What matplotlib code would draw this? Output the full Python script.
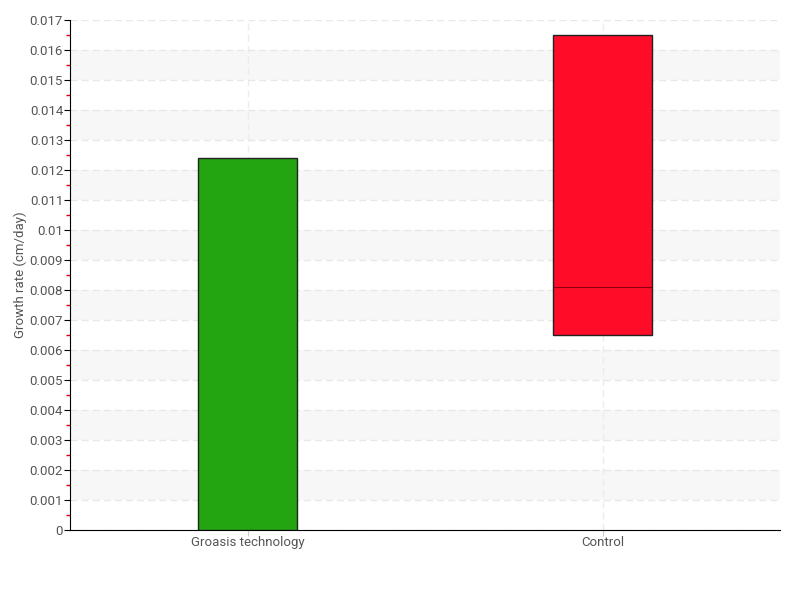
import matplotlib
matplotlib.use("Agg")
import matplotlib.pyplot as plt
import numpy as np

plt.rcParams['font.family'] = ['Roboto', 'DejaVu Sans']

categories = ['Groasis technology', 'Control']
box_low = [0.0, 0.0065]
box_median = [0.0, 0.0081]
box_high = [0.0124, 0.0165]
box_colors = ['#22a510', '#ff0d28']

fig = plt.figure(figsize=(8, 6), dpi=100)
ax = fig.add_axes([0.0875, 0.1167, 0.8875, 0.85])

# alternating bands
for lo in np.arange(0.001, 0.017, 0.002):
    ax.axhspan(lo, lo + 0.001, color='#f7f7f7', zorder=0, lw=0)

stats = []
for i, name in enumerate(categories):
    stats.append({'label': name, 'q1': box_low[i], 'med': box_median[i],
                  'q3': box_high[i], 'whislo': box_low[i], 'whishi': box_high[i],
                  'fliers': []})

positions = np.arange(1, len(categories) + 1)
bp = ax.bxp(stats, positions=positions, widths=0.28, patch_artist=True,
            showcaps=False, showfliers=False,
            medianprops=dict(color='#8a0010', lw=0.8),
            whiskerprops=dict(lw=0))
for patch, c in zip(bp['boxes'], box_colors):
    patch.set_facecolor(c)
    patch.set_edgecolor('#222222')
    patch.set_linewidth(1)
    patch.set_zorder(3)
bp['medians'][0].set_visible(False)
for m in bp['medians']:
    m.set_zorder(4)

ax.set_xlim(0.5, 2.5)
ax.set_ylim(0, 0.017)
ax.set_yticks(np.arange(0, 0.0171, 0.001))
ax.set_yticklabels(['0'] + ['%g' % round(v, 3) for v in np.arange(0.001, 0.0171, 0.001)])
ax.set_yticks(np.arange(0.0005, 0.017, 0.001), minor=True)
ax.set_xticks(positions)
ax.set_xticklabels(categories)

ax.grid(axis='y', which='major', color='#e8e8e8', linestyle=(0, (5, 3)), lw=1, zorder=1)
ax.grid(axis='x', which='major', color='#ececec', linestyle=(0, (5, 3)), lw=1, zorder=1)
ax.set_axisbelow(True)

for s in ['top', 'right']:
    ax.spines[s].set_visible(False)
ax.spines['left'].set_color('black')
ax.spines['bottom'].set_color('black')

ax.tick_params(axis='y', which='major', length=4, color='black', labelsize=9.5, labelcolor='#555555', pad=1)
ax.tick_params(axis='y', which='minor', length=3, width=1, color='#e00000')
ax.tick_params(axis='x', which='major', length=4, color='#cccccc', labelsize=9.5, labelcolor='#555555', pad=0)

ax.set_ylabel('Growth rate (cm/day)', fontsize=9.5, color='#555555', labelpad=2)

fig.savefig('out.png', dpi=100)
